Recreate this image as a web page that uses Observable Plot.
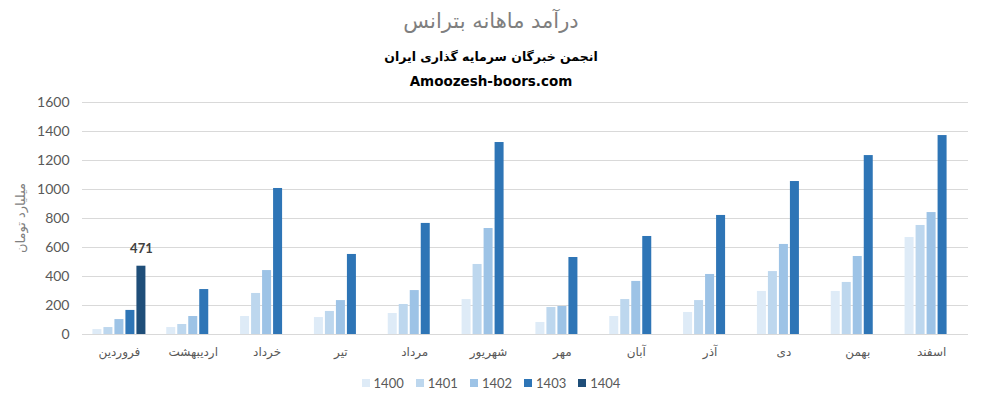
<!DOCTYPE html>
<html>
<head>
<meta charset="utf-8">
<script src="https://cdn.jsdelivr.net/npm/d3@7"></script>
<script src="https://cdn.jsdelivr.net/npm/@observablehq/plot@0.6"></script>
<style>
  body { margin: 0; background: #fff; font-family: Lato, "DejaVu Sans", sans-serif; }
  #wrap { position: relative; width: 982px; height: 405px; overflow: hidden; }
  .hdr { position: absolute; left: 0; width: 982px; text-align: center; white-space: nowrap; }
  #t1 { top: 9px; font: 21px "DejaVu Sans", sans-serif; color: #7f7f7f; }
  #t2 { top: 49px; font: bold 12.5px "DejaVu Sans", sans-serif; color: #000; }
  #t3 { top: 73px; font: bold 13.5px "DejaVu Sans", sans-serif; color: #000; }
  #ylab { position: absolute; left: 20px; top: 218px; transform: translate(-50%, -50%) rotate(-90deg);
          font: 13px "DejaVu Sans", sans-serif; color: #7f7f7f; white-space: nowrap; }
  #chart { position: absolute; left: 0; top: 92px; }
  #legend { position: absolute; top: 375px; left: 0; width: 982px; display: flex; justify-content: center;
            gap: 12px; font: 13px Lato, sans-serif; color: #595959; }
  #legend span { display: inline-flex; align-items: center; }
  #legend i { display: inline-block; width: 8px; height: 8px; margin-right: 4px; }
</style>
</head>
<body>
<div id="wrap">
  <div class="hdr" id="t1" dir="rtl">درآمد ماهانه بترانس</div>
  <div class="hdr" id="t2" dir="rtl">انجمن خبرگان سرمایه گذاری ایران</div>
  <div class="hdr" id="t3">Amoozesh-boors.com</div>
  <div id="ylab" dir="rtl">میلیارد تومان</div>
  <div id="chart"></div>
  <div id="legend"></div>
</div>
<script>
// Months of the Persian calendar, in order
const months = ["فروردین", "اردیبهشت", "خرداد", "تیر", "مرداد", "شهریور", "مهر", "آبان", "آذر", "دی", "بهمن", "اسفند"];
const years = ["1400", "1401", "1402", "1403", "1404"];
const colors = ["#deebf7", "#bdd7ee", "#9dc3e6", "#2e75b6", "#1f4e79"];

// Monthly revenue (billion toman) per year
const y1400 = [34, 48, 124, 117, 145, 241, 83, 124, 152, 297, 297, 669];
const y1401 = [48, 69, 283, 159, 207, 483, 186, 241, 234, 434, 359, 752];
const y1402 = [103, 124, 441, 234, 303, 731, 193, 366, 414, 621, 538, 841];
const y1403 = [166, 310, 1007, 552, 766, 1324, 531, 676, 821, 1055, 1234, 1372];
const y1404 = [471];

const yTicks = [0, 200, 400, 600, 800, 1000, 1200, 1400, 1600];

// Clustered layout: each month spans one unit of x; five bar slots per month
const slot = 11 / 73.83, barW = 9 / 73.83, groupOff = (1 - 5 * slot) / 2 + (slot - barW) / 2;
const series = [y1400, y1401, y1402, y1403, y1404];
const table = [];
series.forEach((vals, j) => vals.forEach((v, i) => {
  table.push({month: months[i], year: years[j], value: v,
              x1: i + groupOff + j * slot, x2: i + groupOff + j * slot + barW});
}));

const chart = Plot.plot({
  width: 982,
  height: 270,
  marginLeft: 82,
  marginRight: 14,
  marginTop: 10,
  marginBottom: 28,
  style: {fontFamily: "Lato, 'DejaVu Sans', sans-serif", fontSize: "13px", color: "#595959", background: "transparent"},
  x: {type: "linear", domain: [0, months.length]},
  y: {domain: [0, 1600]},
  color: {domain: years, range: colors},
  marks: [
    Plot.ruleY(yTicks, {stroke: "#d9d9d9", strokeWidth: 1}),
    Plot.rectY(table, {x1: "x1", x2: "x2", y: "value", fill: "year"}),
    Plot.text(table.filter(d => d.year === "1404"), {
      x: d => (d.x1 + d.x2) / 2, y: "value", text: d => String(d.value),
      dy: -17, fontWeight: "bold", fontSize: 13, fill: "#404040"
    }),
    Plot.axisY({ticks: yTicks, tickFormat: d => String(d), tickSize: 0, tickPadding: 13, label: null, fontSize: 14}),
    Plot.axisX({ticks: months.map((m, i) => i + 0.5), tickFormat: v => months[Math.floor(v)],
                tickSize: 0, tickPadding: 13, label: null, fontFamily: "DejaVu Sans", fontSize: 12, fill: "#595959"})
  ]
});
document.getElementById("chart").appendChild(chart);

const legend = document.getElementById("legend");
years.forEach((y, j) => {
  const s = document.createElement("span");
  s.innerHTML = `<i style="background:${colors[j]}"></i>${y}`;
  legend.appendChild(s);
});
</script>
</body>
</html>
